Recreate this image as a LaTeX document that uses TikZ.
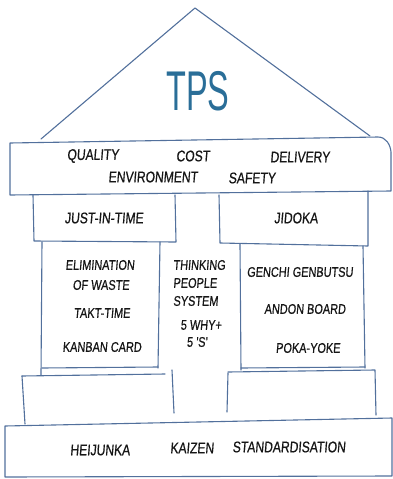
\documentclass[tikz,border=0pt]{standalone}
\usepackage{fontspec}
\newfontfamily\handfont[FakeStretch=0.78,FakeSlant=0.08,FakeBold=0.6]{Liberation Sans}
\newfontfamily\titlefont[FakeStretch=0.58]{Liberation Sans}
\definecolor{pen}{HTML}{52709C}
\definecolor{ink}{HTML}{161616}
\definecolor{tpsblue}{HTML}{2A6E98}
\tikzset{
  sketch/.style={draw=pen,line width=1.1pt,line cap=round,line join=round},
  lbl/.style={font=\handfont\fontsize{15.5}{15.5}\selectfont,text=ink,inner sep=0pt,anchor=center},
  small/.style={lbl,font=\handfont\fontsize{14}{14}\selectfont},
  tps/.style={font=\titlefont\fontsize{56}{56}\selectfont,text=tpsblue,inner sep=0pt}
}
\begin{document}
\begin{tikzpicture}[x=1pt,y=-1pt]
\useasboundingbox (0,0) rectangle (393,479);

% roof
\draw[sketch] (41,139) -- (195,8) -- (370,136);
\node[tps] (title) at (198,91) {TPS};

% beam carrying the goals
\draw[sketch] (10,143) -- (378,137) to[out=0,in=95] (391,152) -- (391,191) -- (10,195) -- cycle;
\node[lbl] (quality) at (93,156) {QUALITY};
\node[lbl] (cost) at (193,156) {COST};
\node[lbl] (delivery) at (300,157) {DELIVERY};
\node[lbl] (environment) at (153,177) {ENVIRONMENT};
\node[lbl] (safety) at (252,178) {SAFETY};

% pillar heads
\draw[sketch] (33,195) -- (34,241) -- (176,242) -- (175,195);
\draw[sketch] (219,195) -- (220,243) -- (368,246) -- (368,191);
\node[lbl] (jit) at (104,218) {JUST-IN-TIME};
\node[lbl] (jidoka) at (296,218) {JIDOKA};

% pillar shafts
\draw[sketch] (42,242) -- (41,375);
\draw[sketch] (160,242) -- (158,368);
\draw[sketch] (42,368) -- (158,367);
\draw[sketch] (240,244) -- (241,370);
\draw[sketch] (363,246) -- (365,368);
\draw[sketch] (241,368) -- (365,367);

\node[small] (elim) at (100,265) {ELIMINATION};
\node[small] (waste) at (101,285) {OF WASTE};
\node[small] (takt) at (102,313) {TAKT-TIME};
\node[small] (kanban) at (102,347) {KANBAN CARD};

\node[small,anchor=west] (thinking) at (173,265) {THINKING};
\node[small,anchor=west] (people) at (173,283) {PEOPLE};
\node[small,anchor=west] (system) at (173,301) {SYSTEM};
\node[small] (why) at (201,325) {5 WHY+};
\node[small] (fives) at (197,342) {5 \char39 S\char39};

\node[small] (genchi) at (300,272) {GENCHI GENBUTSU};
\node[small] (andon) at (305,309) {ANDON BOARD};
\node[small] (poka) at (308,348) {POKA-YOKE};

% pillar bases
\draw[sketch] (22,376) -- (165,374);
\draw[sketch] (22,376) -- (25,424);
\draw[sketch] (172,370) -- (174,413);
\draw[sketch] (228,373) -- (227,412);
\draw[sketch] (228,372) -- (375,370) -- (376,415);

% foundation
\draw[sketch] (5,426) -- (392,418) -- (392,476) -- (5,477) -- cycle;
\node[lbl] (heijunka) at (100,450) {HEIJUNKA};
\node[lbl] (kaizen) at (192,448) {KAIZEN};
\node[lbl] (std) at (289,447) {STANDARDISATION};
\end{tikzpicture}
\end{document}
